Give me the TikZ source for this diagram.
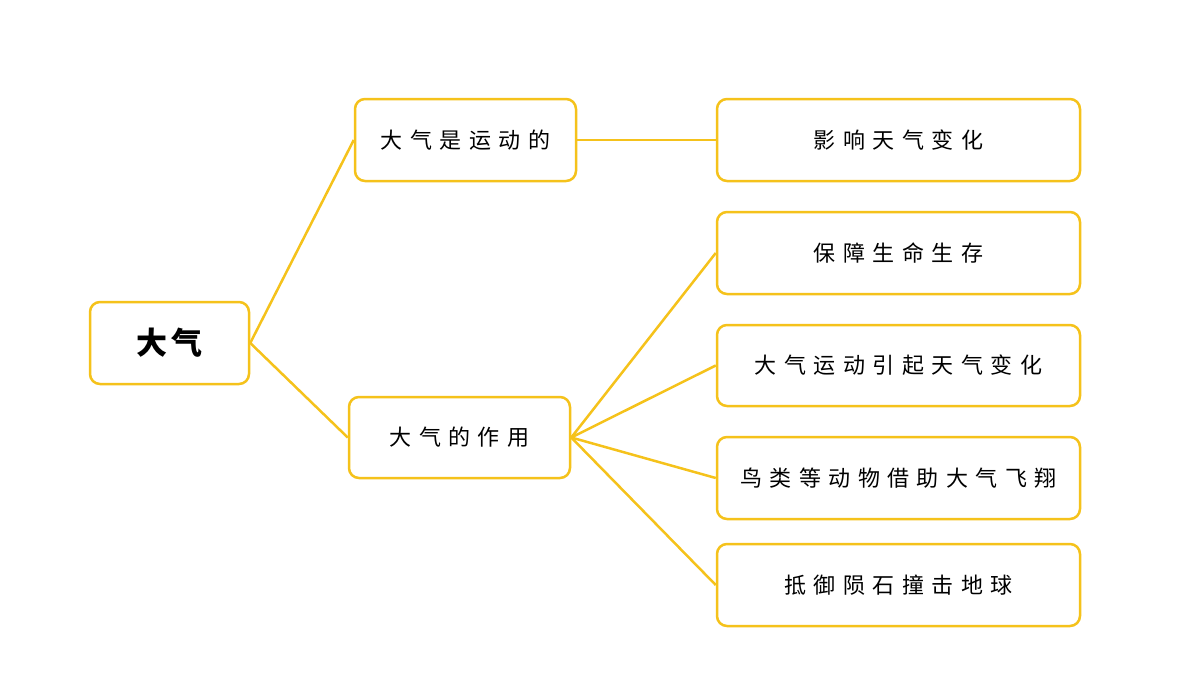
\documentclass[tikz,border=0pt]{standalone}
\usepackage{fontspec}
\newfontfamily\cjk[LetterSpace=34]{Noto Sans CJK SC}
\newfontfamily\cjkb[LetterSpace=10]{Noto Sans CJK SC}
\begin{document}
\begin{tikzpicture}[x=1pt,y=-1pt,
 box/.style={draw=yc,line width=2.5pt,rounded corners=10pt,fill=white,font=\cjk\fontsize{22}{26}\selectfont,inner sep=0pt},
 ln/.style={draw=yc,line width=2.5pt}]
\definecolor{yc}{HTML}{F5C21B}
\useasboundingbox (0,0) rectangle (1200,675);
\node[box,minimum width=159pt,minimum height=82pt,font=\cjkb\bfseries\fontsize{31}{34}\selectfont] (r) at (169.5,343) {大气};
\node[box,minimum width=221pt,minimum height=82pt] (a) at (465.5,140) {大气是运动的};
\node[box,minimum width=221pt,minimum height=81pt] (b) at (459.5,437.5) {大气的作用};
\node[box,minimum width=363pt,minimum height=82pt] (c1) at (898.5,140) {影响天气变化};
\node[box,minimum width=363pt,minimum height=82pt] (c2) at (898.5,253) {保障生命生存};
\node[box,minimum width=363pt,minimum height=81pt] (c3) at (898.5,365.5) {大气运动引起天气变化};
\node[box,minimum width=363pt,minimum height=82pt] (c4) at (898.5,478) {鸟类等动物借助大气飞翔};
\node[box,minimum width=363pt,minimum height=82pt] (c5) at (898.5,585) {抵御陨石撞击地球};
\draw[ln] (r.east) -- (a.west);
\draw[ln] (r.east) -- (b.west);
\draw[ln] (a.east) -- (c1.west);
\foreach \n in {c2,c3,c4,c5} \draw[ln] (b.east) -- (\n.west);
\end{tikzpicture}
\end{document}
